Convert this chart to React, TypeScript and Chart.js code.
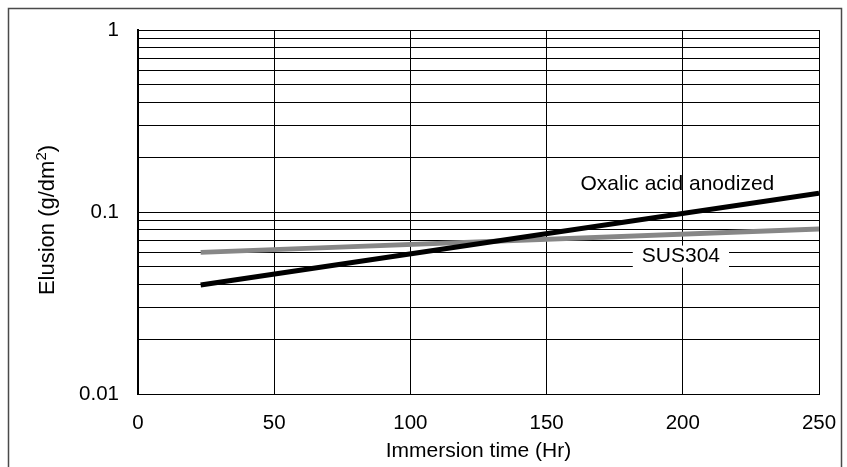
import React, { useEffect, useRef } from "react";
import { Chart, registerables } from "chart.js";

Chart.register(...registerables);

const oxalicTime = [23, 250];
const oxalicValues = [0.0397, 0.127];
const susTime = [23, 250];
const susValues = [0.06, 0.0807];
const xTicks = [0, 50, 100, 150, 200, 250];
const yTicks = [
  0.01, 0.02, 0.03, 0.04, 0.05, 0.06, 0.07, 0.08, 0.09,
  0.1, 0.2, 0.3, 0.4, 0.5, 0.6, 0.7, 0.8, 0.9, 1,
];
const yTickLabels: Record<string, string> = { "0.01": "0.01", "0.1": "0.1", "1": "1" };
const seriesNames = ["Oxalic acid anodized", "SUS304"];
const labelAnchors = [
  { x: 198, y: 0.1426 },
  { x: 199.3, y: 0.0569 },
];
const yTitleParts = ["Elusion (g/dm", "2", ")"];

const FONT = "'Liberation Sans', Arial, Helvetica, sans-serif";

const framePlugin = {
  id: "frame",
  beforeDraw(chart: any) {
    const ctx = chart.ctx;
    ctx.save();
    ctx.fillStyle = "#fff";
    ctx.fillRect(0, 0, chart.width, chart.height);
    ctx.strokeStyle = "#4a4a4a";
    ctx.lineWidth = 1.5;
    ctx.strokeRect(8.5, 8.5, 833, 480);
    ctx.restore();
  },
};

const labelPlugin = {
  id: "seriesLabels",
  afterDatasetsDraw(chart: any) {
    const ctx = chart.ctx;
    const xs = chart.scales.x;
    const ys = chart.scales.y;
    ctx.save();
    ctx.font = `21px ${FONT}`;
    ctx.textAlign = "center";
    ctx.textBaseline = "middle";
    seriesNames.forEach((name, i) => {
      const px = xs.getPixelForValue(labelAnchors[i].x);
      const py = ys.getPixelForValue(labelAnchors[i].y);
      if (i === 1) {
        const w = ctx.measureText(name).width;
        ctx.fillStyle = "#fff";
        ctx.fillRect(px - w / 2 - 9, py - 11, w + 18, 22);
      }
      ctx.fillStyle = "#000";
      ctx.fillText(name, px, py);
    });
    ctx.restore();
  },
  afterDraw(chart: any) {
    const ctx = chart.ctx;
    const area = chart.chartArea;
    ctx.save();
    ctx.translate(48, (area.top + area.bottom) / 2 + 8);
    ctx.rotate(-Math.PI / 2);
    ctx.fillStyle = "#000";
    ctx.textBaseline = "middle";
    ctx.textAlign = "left";
    const big = `22px ${FONT}`;
    const small = `15px ${FONT}`;
    ctx.font = big;
    const w0 = ctx.measureText(yTitleParts[0]).width;
    const w2 = ctx.measureText(yTitleParts[2]).width;
    ctx.font = small;
    const w1 = ctx.measureText(yTitleParts[1]).width;
    let x = -(w0 + w1 + w2) / 2;
    ctx.font = big;
    ctx.fillText(yTitleParts[0], x, 0);
    x += w0;
    ctx.font = small;
    ctx.fillText(yTitleParts[1], x, -6);
    x += w1;
    ctx.font = big;
    ctx.fillText(yTitleParts[2], x, 0);
    ctx.restore();
  },
};

export default function App() {
  const ref = useRef<HTMLCanvasElement>(null);
  useEffect(() => {
    if (!ref.current) return;
    const chart = new Chart(ref.current, {
      type: "line",
      data: {
        datasets: [
          {
            label: seriesNames[0],
            data: oxalicTime.map((t, i) => ({ x: t, y: oxalicValues[i] })),
            borderColor: "#000",
            borderWidth: 5,
            pointRadius: 0,
            tension: 0,
          },
          {
            label: seriesNames[1],
            data: susTime.map((t, i) => ({ x: t, y: susValues[i] })),
            borderColor: "#878787",
            borderWidth: 5,
            pointRadius: 0,
            tension: 0,
          },
        ],
      },
      options: {
        animation: false,
        responsive: false,
        layout: { padding: { left: 0, top: 30, right: 28, bottom: 0 } },
        plugins: { legend: { display: false }, tooltip: { enabled: false } },
        scales: {
          x: {
            type: "linear",
            min: 0,
            max: 250,
            afterBuildTicks(scale: any) {
              scale.ticks = xTicks.map((v) => ({ value: v }));
            },
            afterFit(scale: any) {
              scale.height = 73;
              scale.paddingLeft = 0;
              scale.paddingRight = 0;
            },
            grid: { color: "#000", lineWidth: 1, drawTicks: false },
            border: { color: "#000", width: 1 },
            ticks: {
              color: "#000",
              padding: 17,
              font: { family: FONT, size: 20.5 },
              maxRotation: 0,
              callback: (v: any) => String(v),
            },
            title: {
              display: true,
              text: "Immersion time (Hr)",
              color: "#000",
              font: { family: FONT, size: 21 },
              padding: { top: 0, bottom: 3 },
            },
          },
          y: {
            type: "logarithmic",
            min: 0.01,
            max: 1,
            afterBuildTicks(scale: any) {
              scale.ticks = yTicks.map((v) => ({ value: v }));
            },
            afterFit(scale: any) {
              scale.width = 138;
              scale.paddingTop = 0;
              scale.paddingBottom = 0;
            },
            grid: { color: "#000", lineWidth: 1, drawTicks: false },
            border: { color: "#000", width: 2 },
            ticks: {
              color: "#000",
              padding: 19,
              autoSkip: false,
              font: { family: FONT, size: 20.5 },
              callback: (v: any) => yTickLabels[String(v)] ?? "",
            },
            title: { display: false },
          },
        },
      },
      plugins: [framePlugin, labelPlugin],
    });
    return () => chart.destroy();
  }, []);
  return (
    <div style={{ position: "fixed", left: 0, top: 0, width: 847, height: 467 }}>
      <canvas ref={ref} width={847} height={467} style={{ width: 847, height: 467 }} />
    </div>
  );
}
